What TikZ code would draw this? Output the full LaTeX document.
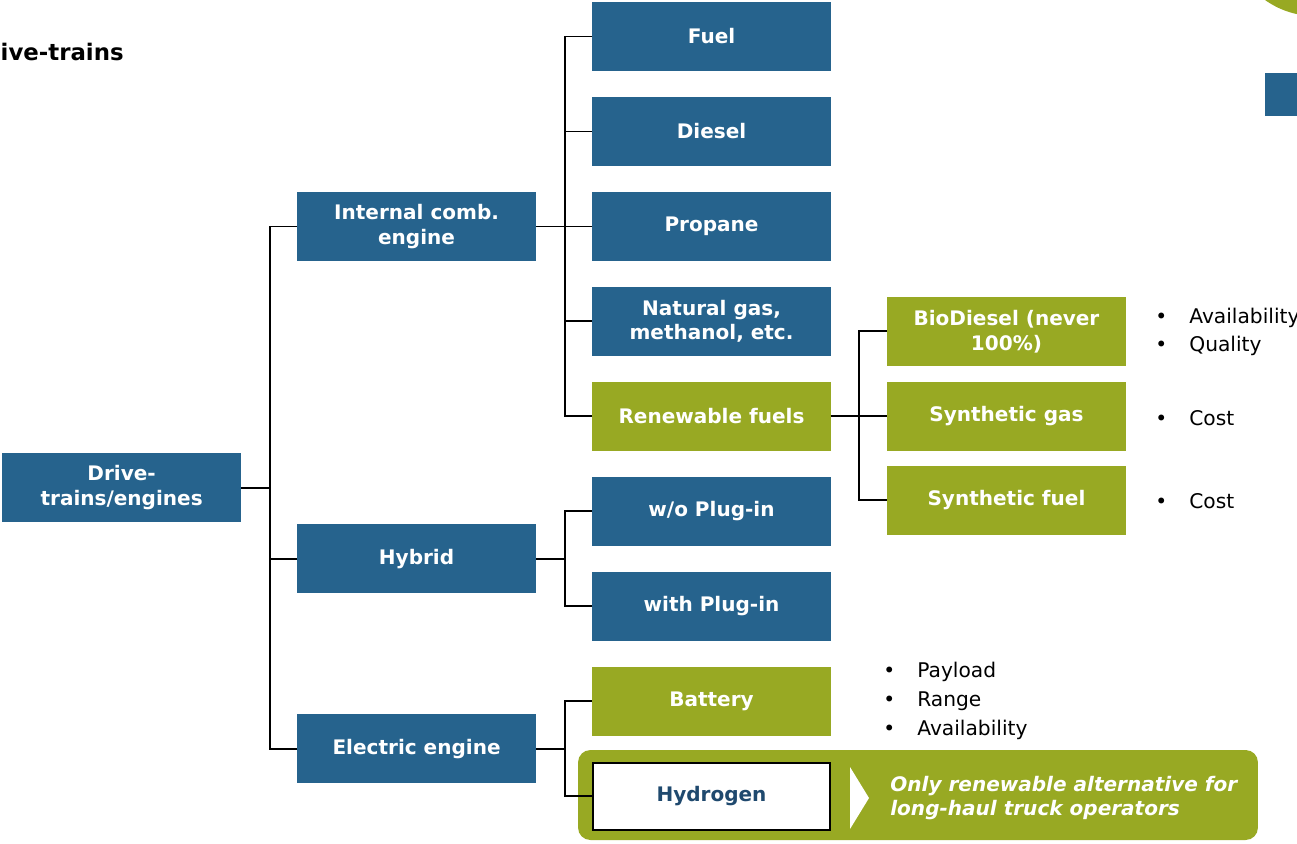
\documentclass[tikz,border=0pt]{standalone}
\usepackage{fontspec}
\setmainfont{DejaVu Sans}
\usetikzlibrary{positioning,calc}
\definecolor{dtblue}{RGB}{38,99,141}
\definecolor{dtgreen}{RGB}{152,169,35}
\definecolor{dtnavy}{RGB}{31,73,110}
\newcommand{\bulletitem}[1]{\makebox[0.68cm][l]{\textbullet}#1}

\begin{document}
\begin{tikzpicture}[
  x=0.02cm, y=-0.02cm,
  node distance=0.52cm,
  box/.style={fill=dtblue, text=white, minimum width=4.78cm, minimum height=1.38cm,
              align=center, font=\bfseries\fontsize{11.4}{14}\selectfont,
              inner sep=2pt, outer sep=0pt},
  greenbox/.style={box, fill=dtgreen},
  h2box/.style={box, fill=white, draw=black, line width=1.1pt, text=dtnavy,
                minimum width=4.74cm, minimum height=1.34cm, outer sep=0.55pt},
  notes/.style={anchor=west, align=left, inner sep=0pt,
                font=\fontsize{11.5}{16.3}\selectfont},
  link/.style={line width=1.1pt}
]
  \useasboundingbox (0,0) rectangle (1297,843);

  % corner marks and panel behind hydrogen
  \fill[dtgreen] (1315,-70) circle (86);
  \fill[dtblue] (1265,73) rectangle (1300,116);
  \node[fill=dtgreen, rounded corners=7pt, minimum width=13.6cm, minimum height=1.8cm] (panel) at (918,795) {};
  \fill[white] (850,767) -- (869,798) -- (850,829) -- cycle;
  \node[anchor=west, align=left, text=white, inner sep=0pt,
        font=\bfseries\itshape\fontsize{11.4}{13.6}\selectfont] (claim) at (890,798)
        {Only renewable alternative for\\ long-haul truck operators};

  \node[anchor=east, inner sep=0pt, font=\bfseries\fontsize{13}{15}\selectfont] (title) at (124,52) {ive-trains};

  % fuels column
  \node[box] (fuel) at (711.5,36.5) {Fuel};
  \node[box, below=of fuel] (diesel) {Diesel};
  \node[box, below=of diesel] (propane) {Propane};
  \node[box, below=of propane] (natgas) {Natural gas,\\ methanol, etc.};
  \node[greenbox, below=of natgas] (renew) {Renewable fuels};
  \node[box, below=of renew] (noplug) {w/o Plug-in};
  \node[box, below=of noplug] (plug) {with Plug-in};
  \node[greenbox, below=of plug] (battery) {Battery};
  \node[h2box, below=of battery] (hydrogen) {Hydrogen};

  % engines
  \node[box, left=1.12cm of propane] (ice) {Internal comb.\\ engine};
  \coordinate (hybmid) at ($(noplug.west)!0.5!(plug.west)$);
  \node[box, left=1.12cm of hybmid] (hybrid) {Hybrid};
  \coordinate (elmid) at ($(battery.west)!0.5!(hydrogen.west)$);
  \node[box, left=1.12cm of elmid] (electric) {Electric engine};
  \coordinate (rootmid) at ($(ice.west)!0.5!(electric.west)$);
  \node[box, left=1.12cm of rootmid] (drive) {Drive-\\trains/engines};

  % renewables
  \node[greenbox, right=1.12cm of renew] (syngas) {Synthetic gas};
  \node[greenbox, above=0.32cm of syngas] (biodiesel) {BioDiesel (never\\ 100\%)};
  \node[greenbox, below=0.3cm of syngas] (synfuel) {Synthetic fuel};

  \node[notes] (bionotes) at (1155,332) {\bulletitem{Availability}\\ \bulletitem{Quality}};
  \node[notes] (gasnotes) at (1155,418) {\bulletitem{Cost}};
  \node[notes] (fuelnotes) at (1155,501) {\bulletitem{Cost}};
  \node[notes] (batnotes) at (883,701) {\bulletitem{Payload}\\ \bulletitem{Range}\\ \bulletitem{Availability}};

  % tree lines
  \coordinate[right=0.58cm of drive] (rootjoint);
  \coordinate[right=0.58cm of ice] (icejoint);
  \coordinate[right=0.58cm of hybrid] (hybjoint);
  \coordinate[right=0.58cm of electric] (eljoint);
  \coordinate[right=0.56cm of renew] (renjoint);
  \foreach \n in {ice,hybrid,electric}
    \draw[link] (drive) -- (rootjoint) |- (\n);
  \foreach \n in {fuel,diesel,propane,natgas,renew}
    \draw[link] (ice) -- (icejoint) |- (\n);
  \foreach \n in {noplug,plug}
    \draw[link] (hybrid) -- (hybjoint) |- (\n);
  \foreach \n in {battery,hydrogen}
    \draw[link] (electric) -- (eljoint) |- (\n);
  \foreach \n in {biodiesel,syngas,synfuel}
    \draw[link] (renew) -- (renjoint) |- (\n);
\end{tikzpicture}
\end{document}
